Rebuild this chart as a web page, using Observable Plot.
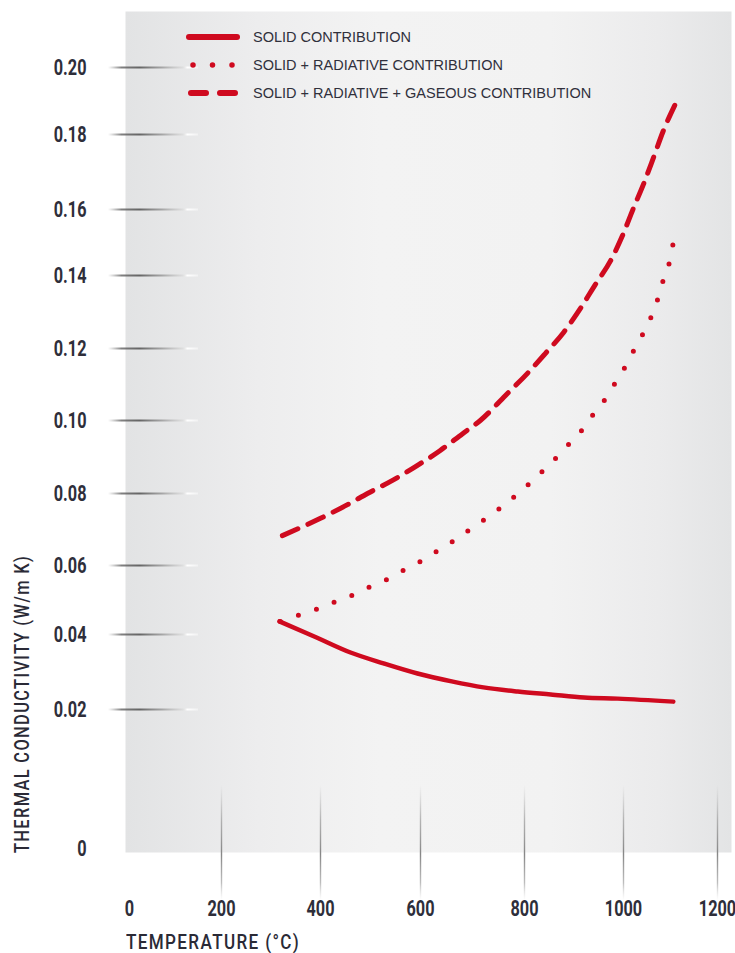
<!DOCTYPE html>
<html><head><meta charset="utf-8">
<script src="https://cdn.jsdelivr.net/npm/d3@7"></script>
<script src="https://cdn.jsdelivr.net/npm/@observablehq/plot@0.6"></script>
<style>
body{margin:0;background:#fff;}
#wrap{position:relative;width:735px;height:953px;overflow:hidden;}
#legend{position:absolute;left:185px;top:23px;font-family:"Liberation Sans",Arial,sans-serif;font-size:14.5px;color:#30303c;}
.row{display:flex;align-items:center;height:28px;white-space:nowrap;}
.row svg{width:56px;height:12px;margin-right:12px;display:block}
.title{position:absolute;font-family:Roboto,"Liberation Sans",sans-serif;font-size:20px;font-weight:500;letter-spacing:1.6px;color:#2a2a36;white-space:nowrap;line-height:20px;}
</style></head><body>
<div id="wrap"><div id="chart"></div><div id="legend"></div>
<div class="title" id="ytitle">THERMAL CONDUCTIVITY (W/m K)</div>
<div class="title" id="xtitle">TEMPERATURE (°C)</div>
</div>
<script>
// ---- data ----
const seriesNames = ["SOLID CONTRIBUTION", "SOLID + RADIATIVE CONTRIBUTION", "SOLID + RADIATIVE + GASEOUS CONTRIBUTION"];

const solidT = [317, 392, 460, 526, 594, 660, 721, 787, 853, 920, 988, 1106];
const solidK = [0.0438, 0.0392, 0.0352, 0.0323, 0.0296, 0.0275, 0.0259, 0.0248, 0.0240, 0.0232, 0.0229, 0.0221];

const radT = [319, 354, 390, 426, 462, 496, 532, 566, 600, 631, 662, 692, 723, 752, 781, 810, 838, 865, 891, 917, 939, 964, 984, 1004, 1023, 1043, 1060, 1074, 1085, 1098, 1106];
const radK = [0.0438, 0.0455, 0.0472, 0.0493, 0.0513, 0.0536, 0.0559, 0.0586, 0.0611, 0.0639, 0.0667, 0.0697, 0.0728, 0.0758, 0.0792, 0.0827, 0.0863, 0.0899, 0.0937, 0.0975, 0.1017, 0.1061, 0.1106, 0.1150, 0.1197, 0.1244, 0.1290, 0.1340, 0.1389, 0.1442, 0.1500];

const gasT = [323, 400, 454, 494, 544, 594, 638, 681, 715, 763, 806, 842, 879, 913, 943, 974, 998, 1021, 1043, 1064, 1085, 1109];
const gasK = [0.0683, 0.0731, 0.0769, 0.0800, 0.0836, 0.0877, 0.0918, 0.0964, 0.1000, 0.1069, 0.1131, 0.1186, 0.1244, 0.1310, 0.1375, 0.1445, 0.1521, 0.1603, 0.1669, 0.1739, 0.1812, 0.1887];

const xTicks = [0, 200, 400, 600, 800, 1000, 1200];
const yTicks = [0, 0.02, 0.04, 0.06, 0.08, 0.10, 0.12, 0.14, 0.16, 0.18, 0.20];

// ---- layout (the original's axes are not evenly spaced: piecewise linear scales) ----
const xRange = [129, 221, 320, 420, 524, 623, 717];
const yRange = [848, 709, 634, 565, 493, 420, 348, 275, 209, 134, 67];
const red = "#cf0a1f";

const toRows = (T, K) => T.map((t, i) => ({t, k: K[i]}));
const solid = toRows(solidT, solidK);
const rad = toRows(radT, radK);
const gas = toRows(gasT, gasK);

const labelFont = {fontFamily: "Roboto, 'Liberation Sans', sans-serif", fontSize: 22, fontWeight: "bold", fill: "#2e2e3a"};

const svg = Plot.plot({
  width: 735, height: 953,
  marginLeft: 125, marginRight: 4, marginTop: 11, marginBottom: 101,
  style: {background: "white", overflow: "visible"},
  x: {type: "linear", domain: xTicks, range: xRange},
  y: {type: "linear", domain: yTicks, range: yRange},
  marks: [
    Plot.frame({fill: "url(#bg)", stroke: "none"}),
    // y tick lines
    Plot.axisY({ticks: yTicks.slice(1), tickSize: -90, dx: -17, fill: "none", label: null, stroke: "url(#tgy)", strokeWidth: 2}),
    // x tick lines
    Plot.axisX({ticks: xTicks.slice(1), tickSize: 115, dy: -67, fill: "none", label: null, stroke: "url(#tgx)", strokeWidth: 1.4}),
    // tick labels
    Plot.axisY({ticks: yTicks, tickSize: 0, tickPadding: 39, stroke: "none", label: null,
      tickFormat: d => d === 0 ? "0" : d.toFixed(2), ...labelFont}),
    Plot.axisX({ticks: xTicks, tickSize: 0, tickPadding: 48, stroke: "none", label: null,
      tickFormat: d => String(d), ...labelFont}),
    Plot.line(solid, {x: "t", y: "k", stroke: red, strokeWidth: 4.5, curve: "monotone-x", strokeLinecap: "round"}),
    Plot.line(rad, {x: "t", y: "k", stroke: red, strokeWidth: 5, curve: "monotone-x", strokeLinecap: "round", strokeDasharray: "0 19"}),
    Plot.line(gas, {x: "t", y: "k", stroke: red, strokeWidth: 5, curve: "monotone-x", strokeLinecap: "round", strokeDasharray: "17 11"})
  ]
});

// gradients
const defs = d3.select(svg).insert("defs", ":first-child");
function grad(id, attrs, stops) {
  const g = defs.append("linearGradient").attr("id", id);
  for (const [k, v] of Object.entries(attrs)) g.attr(k, v);
  for (const [o, c, a] of stops) g.append("stop").attr("offset", o).attr("stop-color", c).attr("stop-opacity", a);
}
grad("bg", {x1: 0, x2: 1, y1: 0, y2: 0}, [
  [0, "#e2e3e4", 1], [0.22, "#ededee", 1], [0.42, "#f3f3f3", 1], [0.7, "#f2f2f2", 1], [0.88, "#ebebec", 1], [1, "#e3e4e5", 1]
]);
grad("tgy", {gradientUnits: "userSpaceOnUse", x1: 0, x2: 90, y1: 0, y2: 0}, [
  [0, "#8a8a8a", 0], [0.15, "#6a6a6a", 0.85], [0.35, "#5e5e5e", 0.95], [0.6, "#8a8a8a", 0.7], [0.82, "#cfcfcf", 0.5], [0.88, "#ffffff", 1], [1, "#ffffff", 0.4]
]);
grad("tgx", {gradientUnits: "userSpaceOnUse", x1: 0, x2: 0, y1: 0, y2: 115}, [
  [0, "#aaaaaa", 0], [0.3, "#9a9a9a", 0.7], [0.6, "#808080", 0.95], [0.85, "#999999", 0.65], [1, "#bbbbbb", 0]
]);

// narrow the tick label glyphs (the original uses a condensed face)
d3.select(svg).selectAll("g[aria-label$='tick label'] text").each(function() {
  const x = +this.getAttribute("x") || 0, y = +this.getAttribute("y") || 0;
  const t = this.getAttribute("transform") || "";
  this.setAttribute("transform", `${t} translate(${x},${y}) scale(0.74,1) translate(${-x},${-y})`);
});

document.getElementById("chart").appendChild(svg);

// axis titles, fitted to the lengths they have in the original
function fit(el, targetWidth) {
  const w = el.getBoundingClientRect().width;
  return targetWidth / w;
}
const yt = document.getElementById("ytitle");
const xt = document.getElementById("xtitle");
const sy = fit(yt, 298), sx = fit(xt, 174);
const yw = yt.getBoundingClientRect().width;
yt.style.left = (22 - yw / 2) + "px";
yt.style.top = (704 - 10) + "px";
yt.style.transformOrigin = "center";
yt.style.transform = `rotate(-90deg) scale(${sy},1)`;
xt.style.left = "126px";
xt.style.top = "932px";
xt.style.transformOrigin = "left center";
xt.style.transform = `scale(${sx},1)`;

// legend (sits inside the plot area, as in the original)
const samples = [
  `<line x1="4" x2="52" y1="6" y2="6" stroke="${red}" stroke-width="6" stroke-linecap="round"/>`,
  `<line x1="8" x2="48" y1="6" y2="6" stroke="${red}" stroke-width="5.5" stroke-linecap="round" stroke-dasharray="0 19.5"/>`,
  `<line x1="6" x2="50" y1="6" y2="6" stroke="${red}" stroke-width="6" stroke-linecap="round" stroke-dasharray="15 14"/>`
];
const legend = document.getElementById("legend");
seriesNames.forEach((name, i) => {
  const row = document.createElement("div");
  row.className = "row";
  row.innerHTML = `<svg viewBox="0 0 56 12">${samples[i]}</svg><span>${name}</span>`;
  legend.appendChild(row);
});
</script>
</body></html>
